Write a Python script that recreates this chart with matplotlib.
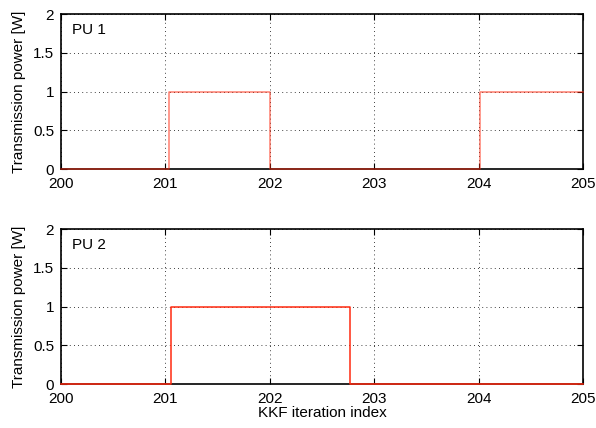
import matplotlib
matplotlib.use("Agg")
import matplotlib.pyplot as plt

plt.rcParams['font.family'] = ['Liberation Sans', 'DejaVu Sans']

# Switching instants (KKF iteration index) and transmit power levels [W]
pu1_t = [200.0, 201.03, 202.0, 204.01, 205.0]
pu1_p = [0, 1, 0, 1, 1]
pu2_t = [200.0, 201.05, 202.77, 205.0]
pu2_p = [0, 1, 0, 0]

x_ticks = [200, 201, 202, 203, 204, 205]
y_ticks = [0, 0.5, 1, 1.5, 2]
y_ticklabels = ['0', '0.5', '1', '1.5', '2']
panel_labels = ['PU 1', 'PU 2']

fig = plt.figure(figsize=(5.96, 4.28), dpi=100)
ax1 = fig.add_axes([0.1023, 0.6051, 0.876, 0.362])
ax2 = fig.add_axes([0.1023, 0.1028, 0.876, 0.362])

series = [(pu1_t, pu1_p, 0.6), (pu2_t, pu2_p, 1.0)]
for ax, (t, p, a), lab in zip([ax1, ax2], series, panel_labels):
    ax.step(t, p, where='post', color='#ff2a10', lw=1.1, alpha=a,
            zorder=5, clip_on=False)
    ax.set_xlim(200, 205)
    ax.set_ylim(0, 2)
    ax.set_xticks(x_ticks)
    ax.set_yticks(y_ticks)
    ax.set_yticklabels(y_ticklabels)
    ax.grid(True, color='black', linestyle=(0, (1, 4)), linewidth=0.6)
    ax.tick_params(direction='in', top=True, right=True, length=4,
                   width=0.8, labelsize=11)
    ax.tick_params(axis='x', pad=6)
    ax.tick_params(axis='y', pad=5)
    for s in ax.spines.values():
        s.set_linewidth(1.2)
        s.set_zorder(4)
    ax.set_ylabel('Transmission power [W]', fontsize=11, labelpad=5)
    ax.text(0.022, 0.94, lab, transform=ax.transAxes, fontsize=11,
            ha='left', va='top')

ax2.set_xlabel('KKF iteration index', fontsize=11, labelpad=0)

fig.savefig('out.png', dpi=100)
